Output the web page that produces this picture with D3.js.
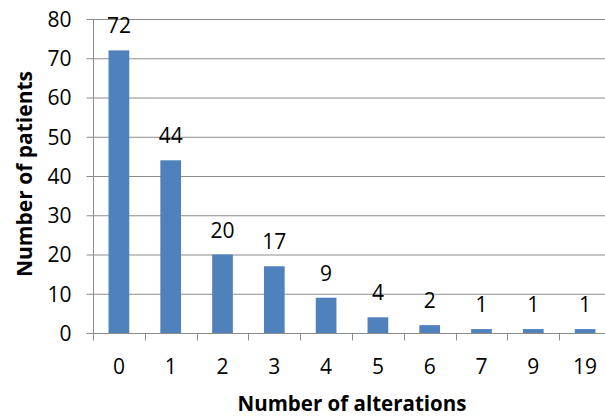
<!DOCTYPE html>
<html>
<head>
<meta charset="utf-8">
<script src="https://cdn.jsdelivr.net/npm/d3@7"></script>
<style>
  html, body { margin: 0; padding: 0; background: #fff; }
  svg { display: block; font-family: "Open Sans", "Liberation Sans", sans-serif; }
</style>
</head>
<body>
<svg id="chart" width="605" height="417"></svg>
<script>
// Number of alterations per patient
const categories = ["0", "1", "2", "3", "4", "5", "6", "7", "9", "19"];
const patients = [72, 44, 20, 17, 9, 4, 2, 1, 1, 1];
const yTicks = [0, 10, 20, 30, 40, 50, 60, 70, 80];

const svg = d3.select("#chart");
const plotLeft = 93, plotRight = 611, plotTop = 19, plotBottom = 333;
const labelSize = 21;

const x = d3.scaleBand().domain(categories).range([plotLeft, plotRight]).paddingInner(0.6).paddingOuter(0.3);
const xTick = d3.scaleBand().domain(categories).range([plotLeft, plotRight]);
const y = d3.scaleLinear().domain([0, 80]).range([plotBottom, plotTop]);

const gridColor = "#8c8c8c";

// horizontal gridlines
svg.append("g").selectAll("line").data(yTicks.filter(d => d > 0)).join("line")
  .attr("x1", plotLeft).attr("x2", plotRight)
  .attr("y1", d => y(d) + 0.5).attr("y2", d => y(d) + 0.5)
  .attr("stroke", gridColor).attr("stroke-width", 1);

// bars
svg.append("g").selectAll("rect").data(patients).join("rect")
  .attr("x", (d, i) => x(categories[i]))
  .attr("width", x.bandwidth())
  .attr("y", d => y(d))
  .attr("height", d => y(0) - y(d))
  .attr("fill", "#4f81bd");

// y axis
const yAxis = svg.append("g").attr("transform", `translate(${plotLeft + 0.5},0)`)
  .call(d3.axisLeft(y).tickValues(yTicks).tickSize(7).tickPadding(15));
yAxis.select(".domain").attr("stroke", gridColor).attr("d", `M0,${plotTop}V${plotBottom}`);
yAxis.selectAll(".tick line").attr("stroke", gridColor);
yAxis.selectAll(".tick text").attr("font-size", labelSize).attr("fill", "#000")
  .attr("font-family", "'Open Sans', sans-serif").attr("dy", "0.35em");

// x axis
const xAxis = svg.append("g").attr("transform", `translate(0,${plotBottom + 0.5})`);
xAxis.append("line").attr("x1", plotLeft).attr("x2", plotRight).attr("stroke", gridColor);
const xTickPos = categories.map(c => xTick(c)).concat([plotRight]);
xAxis.selectAll("line.tk").data(xTickPos).join("line").attr("class", "tk")
  .attr("x1", d => Math.round(d) + 0.5).attr("x2", d => Math.round(d) + 0.5)
  .attr("y1", 0).attr("y2", 7).attr("stroke", gridColor);
xAxis.selectAll("text").data(categories).join("text")
  .attr("x", d => xTick(d) + xTick.bandwidth() / 2)
  .attr("y", 40)
  .attr("text-anchor", "middle").attr("font-size", labelSize).attr("fill", "#000")
  .text(d => d);

// value labels
svg.append("g").selectAll("text").data(patients).join("text")
  .attr("x", (d, i) => x(categories[i]) + x.bandwidth() / 2)
  .attr("y", d => y(d) - 17)
  .attr("text-anchor", "middle").attr("font-size", labelSize).attr("fill", "#000")
  .text(d => d);

// axis titles
svg.append("text").attr("x", 352).attr("y", 411)
  .attr("text-anchor", "middle").attr("font-size", 20.5).attr("font-weight", "bold")
  .text("Number of alterations");
svg.append("text").attr("transform", "translate(32,174) rotate(-90)")
  .attr("text-anchor", "middle").attr("font-size", 21).attr("font-weight", "bold")
  .text("Number of patients");
</script>
</body>
</html>
